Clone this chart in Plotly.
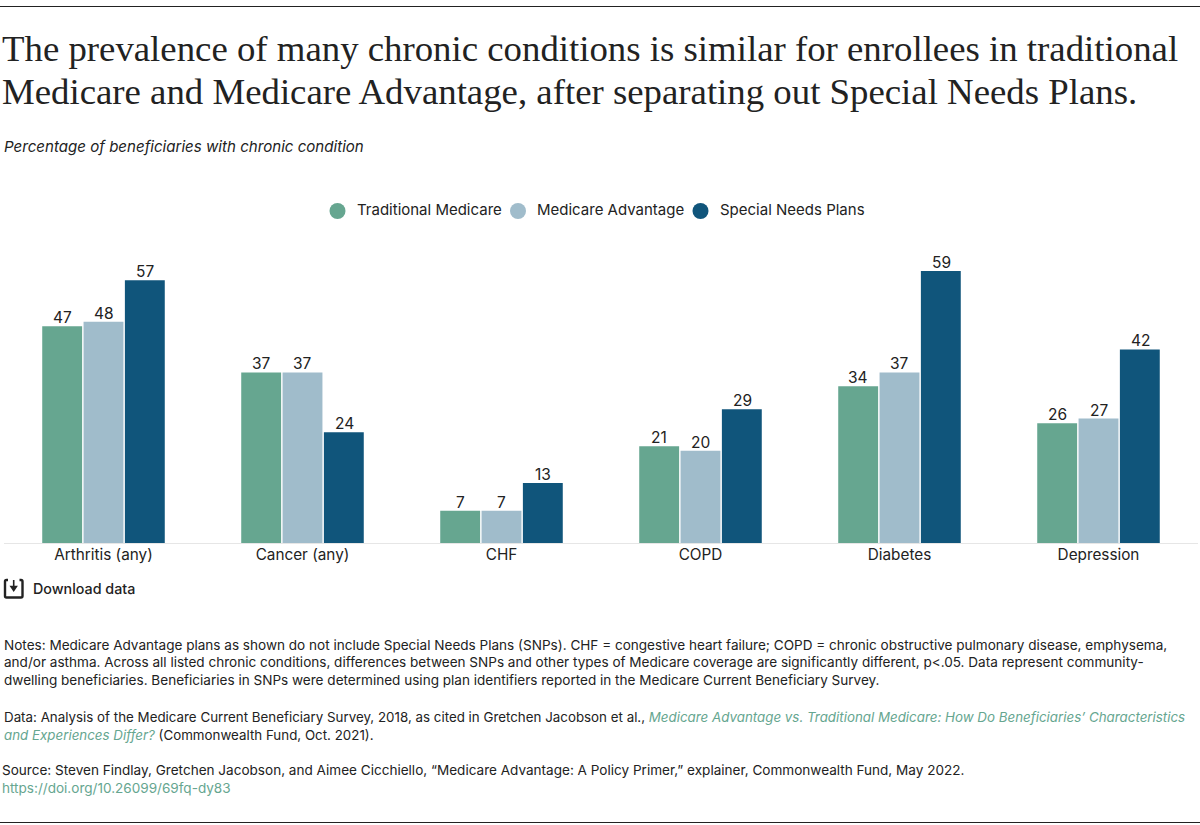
import plotly.graph_objects as go

categories = ["Arthritis (any)", "Cancer (any)", "CHF", "COPD", "Diabetes", "Depression"]
traditional = [47, 37, 7, 21, 34, 26]
advantage = [48, 37, 7, 20, 37, 27]
special = [57, 24, 13, 29, 59, 42]
series_names = ["Traditional Medicare", "Medicare Advantage", "Special Needs Plans"]
colors = ["#66A690", "#A0BCCB", "#10557B"]
legend_swatch_x = [337.5, 518, 700.5]
legend_text_x = [355, 535, 718]

W, H = 1200, 825
L, R, T, B = 4, 1198, 240, 543
SANS = "Inter, Roboto, sans-serif"
SERIF = "Liberation Serif, serif"
INK = "#222222"
GREEN = "#66A690"

def px(x): return (x - L) / (R - L)
def py(y): return (B - y) / (B - T)

fig = go.Figure()
for name, vals, c in zip(series_names, [traditional, advantage, special], colors):
    fig.add_trace(go.Bar(x=categories, y=vals, name=name, marker=dict(color=c, line_width=0),
                         showlegend=False))

# value labels, anchored to the data
for vals, shift in zip([traditional, advantage, special], [-41.5, 0, 41.5]):
    for cat, v in zip(categories, vals):
        fig.add_annotation(x=cat, y=v, text=str(v), showarrow=False, xshift=shift, yshift=-3,
                           yanchor="bottom", font=dict(family=SANS, size=15.5, color=INK))

SMALL = 13.55
lines = [
    (48.5, "The prevalence of many chronic conditions is similar for enrollees in traditional", SERIF, 36.8, 0, 400),
    (91.5, "Medicare and Medicare Advantage, after separating out Special Needs Plans.", SERIF, 36.8, 0, 400),
    (146, "<i>Percentage of beneficiaries with chronic condition</i>", SANS, 15.1, 2, 400),
    (588.5, "Download data", SANS, 14.3, 31, 500),
    (645, "Notes: Medicare Advantage plans as shown do not include Special Needs Plans (SNPs). CHF = congestive heart failure; COPD = chronic obstructive pulmonary disease, emphysema,", SANS, SMALL, 2, 400),
    (662, "and/or asthma. Across all listed chronic conditions, differences between SNPs and other types of Medicare coverage are significantly different, p&lt;.05. Data represent community-", SANS, SMALL, 2, 400),
    (680, "dwelling beneficiaries. Beneficiaries in SNPs were determined using plan identifiers reported in the Medicare Current Beneficiary Survey.", SANS, SMALL, 2, 400),
    (717, f"Data: Analysis of the Medicare Current Beneficiary Survey, 2018, as cited in Gretchen Jacobson et al., <i><span style='color:{GREEN}'>Medicare Advantage vs. Traditional Medicare: How Do Beneficiaries’ Characteristics</span></i>", SANS, 13.35, 2, 400),
    (735, f"<i><span style='color:{GREEN}'>and Experiences Differ?</span></i> (Commonwealth Fund, Oct. 2021).", SANS, 13.35, 2, 400),
    (770, "Source: Steven Findlay, Gretchen Jacobson, and Aimee Cicchiello, “Medicare Advantage: A Policy Primer,” explainer, Commonwealth Fund, May 2022.", SANS, SMALL, 0, 400),
    (788, f"<span style='color:{GREEN}'>https://doi.org/10.26099/69fq-dy83</span>", SANS, SMALL, 0, 400),
]
for name, x in zip(series_names, legend_text_x):
    lines.append((209, name, SANS, 15, x, 400))
for y, text, fam, size, x, weight in lines:
    fig.add_annotation(xref="paper", yref="paper", x=px(x), y=py(y), text=text, showarrow=False,
                       xanchor="left", yanchor="middle", align="left",
                       font=dict(family=fam, size=size, color=INK, weight=weight))

rule = dict(color="#222222", width=1)
shapes = [
    dict(type="line", xref="paper", yref="paper", x0=px(0), x1=px(1200), y0=py(6.5), y1=py(6.5), line=rule),
    dict(type="line", xref="paper", yref="paper", x0=px(0), x1=px(1200), y0=py(822.5), y1=py(822.5), line=rule),
    dict(type="line", xref="paper", yref="paper", x0=px(4), x1=px(1198), y0=py(543.5), y1=py(543.5),
         line=dict(color="#E6E6E6", width=1)),
    # download icon
    dict(type="path", xref="paper", yref="paper",
         path=(f"M {px(8)} {py(580)} L {px(6.5)} {py(580)} Q {px(5)} {py(580)} {px(5)} {py(581.5)} "
               f"L {px(5)} {py(596)} Q {px(5)} {py(597.5)} {px(6.5)} {py(597.5)} "
               f"L {px(21)} {py(597.5)} Q {px(22.5)} {py(597.5)} {px(22.5)} {py(596)} "
               f"L {px(22.5)} {py(581.5)} Q {px(22.5)} {py(580)} {px(21)} {py(580)} L {px(19.5)} {py(580)}"),
         line=dict(color=INK, width=2.4)),
    dict(type="path", xref="paper", yref="paper",
         path=f"M {px(13.7)} {py(580)} L {px(13.7)} {py(588)} M {px(11)} {py(586.5)} L {px(13.7)} {py(590.5)} L {px(16.4)} {py(586.5)} Z",
         line=dict(color=INK, width=1.6), fillcolor=INK),
]
# legend swatches
for x, c in zip(legend_swatch_x, colors):
    shapes.append(dict(type="circle", xref="paper", yref="paper", x0=px(x - 8), x1=px(x + 8),
                       y0=py(211 + 8), y1=py(211 - 8), fillcolor=c, line_width=0))

fig.update_layout(
    width=W, height=H, autosize=False,
    margin=dict(l=L, r=W - R, t=T, b=H - B, pad=0),
    paper_bgcolor="white", plot_bgcolor="white",
    barmode="group", bargap=0.377, bargroupgap=0.035,
    font=dict(family=SANS, color=INK),
    shapes=shapes,
    showlegend=False,
    xaxis=dict(type="category", showgrid=False, showline=False, ticks="", ticklabelstandoff=1,
               tickfont=dict(family=SANS, size=15.3, color=INK)),
    yaxis=dict(range=[0, 303 / 4.61], visible=False, fixedrange=True),
)
fig.write_html("out.html", config=dict(displayModeBar=False),
               post_script="document.body.style.margin='0';document.body.style.overflow='hidden';")
